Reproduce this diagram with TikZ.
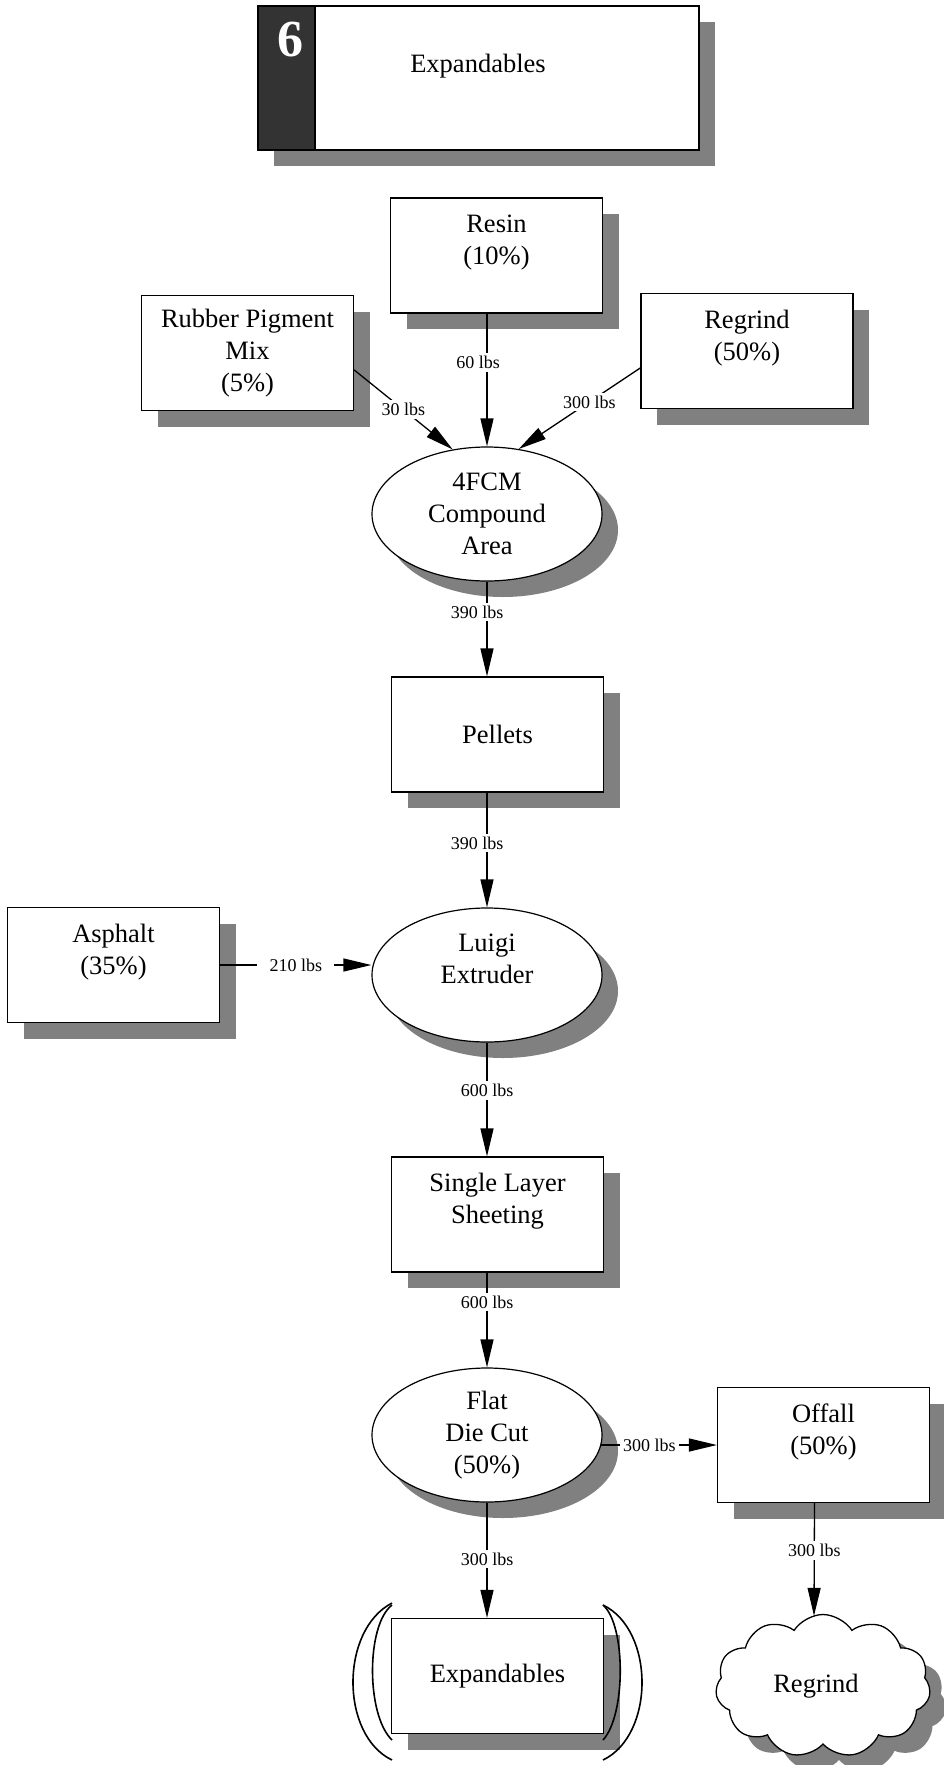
\documentclass[tikz,border=0pt]{standalone}
\usepackage{fontspec}
\setmainfont{Liberation Serif}
\usetikzlibrary{arrows.meta,shapes.geometric,shapes.symbols,shadows,calc}
\definecolor{shgray}{RGB}{128,128,128}
\definecolor{darkcol}{RGB}{51,51,51}
\newcommand{\blankline}{\\[-10pt]\strut}
\begin{document}
\begin{tikzpicture}[x=1pt,y=-1pt,
  shd/.style={drop shadow={shadow xshift=16pt,shadow yshift=-16pt,fill=shgray,opacity=1}},
  mainfont/.style={font=\fontsize{26.5}{32}\selectfont},
  box/.style={draw,fill=white,line width=1.2pt,minimum width=212pt,minimum height=115pt,inner sep=0pt,align=center,mainfont,shd},
  ell/.style={ellipse,draw,fill=white,line width=1.2pt,minimum width=230pt,minimum height=134pt,inner sep=0pt,align=center,mainfont,shd},
  arr/.style={-{Triangle[length=28pt,width=13pt]},line width=1.3pt},
  lbl/.style={fill=white,inner sep=3pt,font=\fontsize{18}{20}\selectfont},
  paren/.style={line width=1.6pt}
]
\useasboundingbox (0,0) rectangle (943,1765);

% title
\node[draw,fill=white,line width=1.6pt,minimum width=441pt,minimum height=144pt,inner sep=0pt,shd] (title) at (478.5,78) {};
\node[draw,fill=darkcol,line width=1.6pt,minimum width=57pt,minimum height=144pt,inner sep=0pt,anchor=west] (tnum) at (title.west) {};
\node[anchor=base,text=white,font=\fontsize{52}{52}\selectfont\bfseries] (six) at (290,56) {6};
\node[anchor=base,mainfont] (ttext) at (478,72) {Expandables};

% nodes
\node[box] (resin) at (496.5,255.5) {Resin\\(10\%)\blankline};
\node[box] (rubber) at (247.5,353) {Rubber Pigment\\Mix\\(5\%)};
\node[box] (regrindin) at (747,351) {Regrind\\(50\%)\blankline};
\node[ell] (c4fcm) at (487,514) {4FCM\\Compound\\Area};
\node[box] (pellets) at (497.5,734.5) {Pellets};
\node[ell] (luigi) at (487,975) {Luigi\\Extruder\blankline};
\node[box] (asphalt) at (113.5,965) {Asphalt\\(35\%)\blankline};
\node[box] (sheeting) at (497.5,1214.5) {Single Layer\\Sheeting\blankline};
\node[ell] (flatdie) at (487,1435) {Flat\\Die Cut\\(50\%)};
\node[box] (offall) at (823.5,1445) {Offall\\(50\%)\blankline};
\node[box] (expand) at (497.5,1676) {Expandables};
\node[cloud,cloud puffs=11,cloud puff arc=115,cloud ignores aspect,draw,fill=white,line width=1.3pt,minimum width=215pt,minimum height=143pt,inner sep=0pt,mainfont,shd] (cloud) at (823,1686) {\kern-14pt Regrind};

% brackets around expandables
\draw[paren] (392,1603) .. controls (340,1630) and (340,1735) .. (392,1760);
\draw[paren] (392,1605) .. controls (366,1625) and (366,1715) .. (392,1740);
\draw[paren] (603,1605) .. controls (655,1630) and (655,1735) .. (603,1760);
\draw[paren] (603,1605) .. controls (626,1625) and (626,1715) .. (603,1740);

% connectors
\draw[arr] (rubber.-9) -- node[lbl,pos=0.5] {30 lbs} (c4fcm.118);
\draw[arr] (regrindin.189) -- node[lbl,pos=0.42] {300 lbs} (c4fcm.64);
\draw[arr] (c4fcm.north |- resin.south) -- node[lbl,pos=0.37,xshift=-9pt] {60 lbs} (c4fcm.north);
\draw[arr] (c4fcm.south) -- node[lbl,pos=0.32,xshift=-10pt] {390 lbs} (c4fcm.south |- pellets.north);
\draw[arr] (luigi.north |- pellets.south) -- node[lbl,pos=0.44,xshift=-10pt] {390 lbs} (luigi.north);
\draw[arr] (asphalt.east) -- node[lbl,pos=0.5,inner xsep=12pt] {210 lbs} (asphalt.east -| luigi.west);
\draw[arr] (luigi.south) -- node[lbl,pos=0.42] {600 lbs} (luigi.south |- sheeting.north);
\draw[arr] (flatdie.north |- sheeting.south) -- node[lbl,pos=0.31] {600 lbs} (flatdie.north);
\draw[arr] ($(flatdie.east |- offall.west)+(-2,0)$) -- node[lbl,pos=0.42] {300 lbs} (offall.west);
\draw[arr] (flatdie.south) -- node[lbl,pos=0.49] {300 lbs} (flatdie.south |- expand.north);
\draw[arr] ($(offall.south)+(-9,0)$) -- node[lbl,pos=0.42] {300 lbs} ($(cloud.north)+(-9,2)$);
\end{tikzpicture}
\end{document}
